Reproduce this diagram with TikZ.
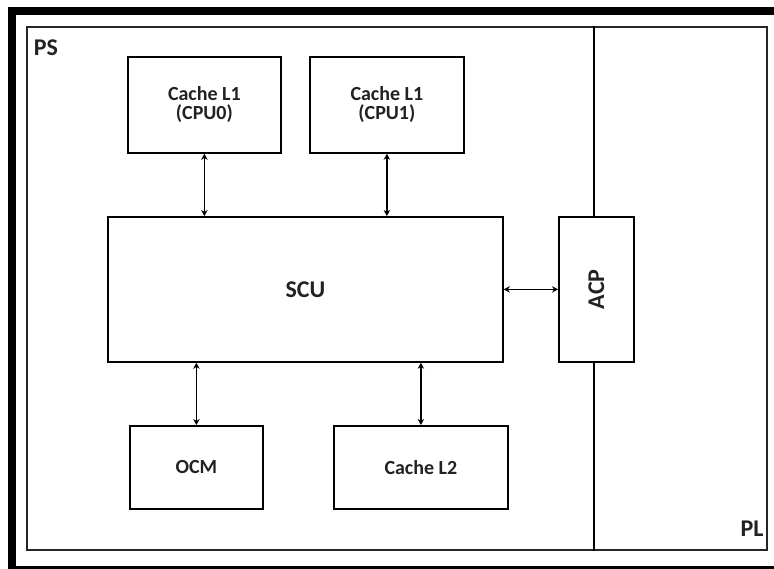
\documentclass[tikz,border=0pt]{standalone}
\usepackage{fontspec}
\setmainfont{Carlito}
\usetikzlibrary{arrows.meta}
\definecolor{txt}{HTML}{222222}
\begin{document}
\begin{tikzpicture}[x=1pt,y=-1pt,
  blk/.style={draw=black,line width=1.8pt,fill=white,inner sep=0pt,anchor=north west,
    align=center,text=txt,font=\bfseries\fontsize{20}{19}\selectfont},
  big/.style={font=\bfseries\fontsize{24}{24}\selectfont},
  conn/.style={line width=1.7pt,{Stealth[length=6pt,width=6.5pt]}-{Stealth[length=6pt,width=6.5pt]}}
]
\useasboundingbox (0,0) rectangle (774,569);
\clip (0,0) rectangle (774,569);
\fill[white] (0,0) rectangle (774,569);
% outer black frame (cropped on the right and bottom)
\fill[black] (8,7) rectangle (800,15);
\fill[black] (8,7) rectangle (16,600);
\fill[black] (8,566) rectangle (800,600);
% inner frame
\node[draw=black!85,line width=1.8pt,inner sep=0pt,anchor=north west,minimum width=740pt,minimum height=523pt] (frame) at (26,26) {};
% boxes
\node[blk,minimum width=153pt,minimum height=96pt] (c0) at (127,56) {Cache L1\\(CPU0)};
\node[blk,minimum width=154pt,minimum height=96pt] (c1) at (309,56) {Cache L1\\(CPU1)};
\node[blk,big,minimum width=395pt,minimum height=145pt] (scu) at (107,216) {SCU};
\node[blk,minimum width=75pt,minimum height=145pt] (acp) at (558,216) {};
\node[big,text=txt,rotate=90] (acpl) at (acp.center) {ACP};
\node[blk,minimum width=133pt,minimum height=83pt] (ocm) at (129,425) {OCM};
\node[blk,minimum width=174pt,minimum height=83pt] (l2) at (333,425) {Cache L2};
% labels
\node[big,text=txt,inner sep=0pt] (ps) at (46,48) {PS};
\node[big,text=txt,inner sep=0pt] (pl) at (752,529) {PL};
% divider
\draw[line width=1.8pt] (acp.north -| 594,0) -- (frame.north -| 594,0);
\draw[line width=1.8pt] (acp.south -| 594,0) -- (frame.south -| 594,0);
% connectors
\draw[conn] (c0.south) -- (c0.south |- scu.north);
\draw[conn] (c1.south) -- (c1.south |- scu.north);
\draw[conn] (ocm.north |- scu.south) -- (ocm.north);
\draw[conn] (l2.north |- scu.south) -- (l2.north);
\draw[conn] (scu.east) -- (acp.west);
\end{tikzpicture}
\end{document}
